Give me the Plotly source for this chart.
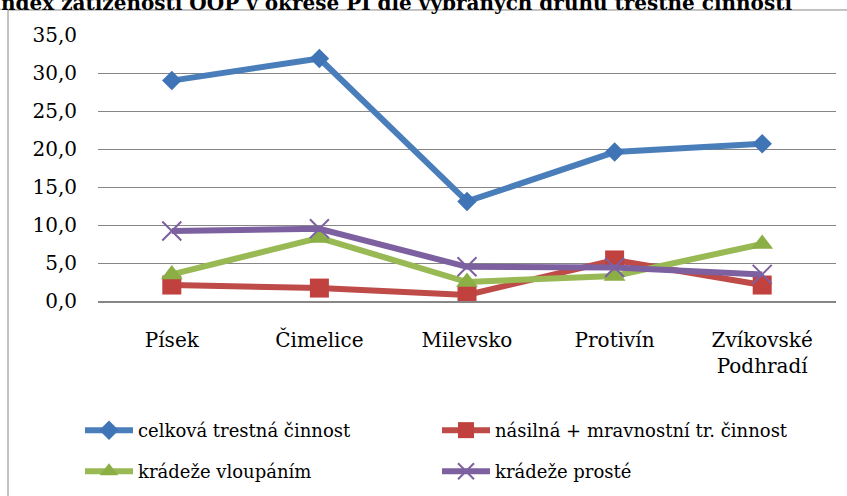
import plotly.graph_objects as go

categories = ["Písek", "Čimelice", "Milevsko", "Protivín", "Zvíkovské<br>Podhradí"]
celkova = [29.0, 31.9, 13.1, 19.6, 20.7]
nasilna = [2.1, 1.7, 0.8, 5.4, 2.1]
vloupanim = [3.5, 8.3, 2.5, 3.3, 7.5]
proste = [9.2, 9.5, 4.5, 4.4, 3.5]
names = ["celková trestná činnost", "násilná + mravnostní tr. činnost",
         "krádeže vloupáním", "krádeže prosté"]
title_text = "Index zatíženosti OOP v okrese PI dle vybraných druhů trestné činnosti"
y_ticks = [0, 5, 10, 15, 20, 25, 30, 35]

W, H = 847, 496
L, R, T, B = 98, 836, 35, 300.7
pw, ph = R - L, B - T

def px_x(x):
    return (x - L) / pw

def px_y(y):
    return (B - y) / ph

FONT = "DejaVu Serif"

fig = go.Figure()
fig.add_trace(go.Scatter(x=categories, y=celkova, name=names[0], mode="lines+markers",
                         line=dict(color="#4A7EBB", width=6),
                         marker=dict(symbol="diamond", size=15, color="#3F75B6"),
                         legend="legend"))
fig.add_trace(go.Scatter(x=categories, y=nasilna, name=names[1], mode="lines+markers",
                         line=dict(color="#BE4B48", width=6),
                         marker=dict(symbol="square", size=19, color="#C0413E"),
                         legend="legend"))
fig.add_trace(go.Scatter(x=categories, y=vloupanim, name=names[2], mode="lines+markers",
                         line=dict(color="#98B954", width=6),
                         marker=dict(symbol="triangle-up", size=19, color="#8BAF45"),
                         legend="legend2"))
fig.add_trace(go.Scatter(x=categories, y=proste, name=names[3], mode="lines+markers",
                         line=dict(color="#7D60A0", width=6),
                         marker=dict(symbol="x-thin", size=19, color="#7D60A0",
                                     line=dict(width=2, color="#7D60A0")),
                         legend="legend2"))

legend_common = dict(orientation="h", xanchor="left", yanchor="middle",
                     entrywidth=294, entrywidthmode="pixels", itemwidth=48,
                     font=dict(family=FONT, size=18, color="black"),
                     bgcolor="rgba(0,0,0,0)", itemclick=False)

fig.update_layout(
    width=W, height=H,
    font=dict(family=FONT, size=20, color="black"),
    margin=dict(l=L, r=W - R, t=T, b=H - B, pad=0, autoexpand=False),
    paper_bgcolor="white", plot_bgcolor="white",
    separators=", ",
    title=dict(text="<b>" + title_text + "</b>", x=792 / W, xanchor="right",
               y=1 - 3 / H, yanchor="middle",
               font=dict(family=FONT, size=20, color="black")),
    xaxis=dict(range=[-0.5, 4.5], showgrid=False, showline=True, linecolor="#868686",
               linewidth=1.6, ticks="",
               tickfont=dict(family=FONT, size=20, color="black"),
               ticklabelstandoff=20, fixedrange=True),
    yaxis=dict(range=[0, 35], tickvals=y_ticks, tickformat=".1f",
               showgrid=True, gridcolor="#868686", gridwidth=1,
               zeroline=False, showline=False, ticks="",
               tickfont=dict(family=FONT, size=20, color="black"),
               ticklabelstandoff=20, fixedrange=True),
    legend=dict(x=px_x(80), y=px_y(430), **legend_common),
    legend2=dict(x=px_x(80), y=px_y(471), **legend_common),
    shapes=[dict(type="rect", xref="paper", yref="paper",
                 x0=px_x(8), x1=px_x(W + 5), y0=px_y(H + 5), y1=px_y(10),
                 line=dict(color="#868686", width=1), fillcolor="rgba(0,0,0,0)",
                 layer="below")],
)

fig.write_html("out.html", config={"displayModeBar": False},
               post_script="document.body.style.margin='0';")
